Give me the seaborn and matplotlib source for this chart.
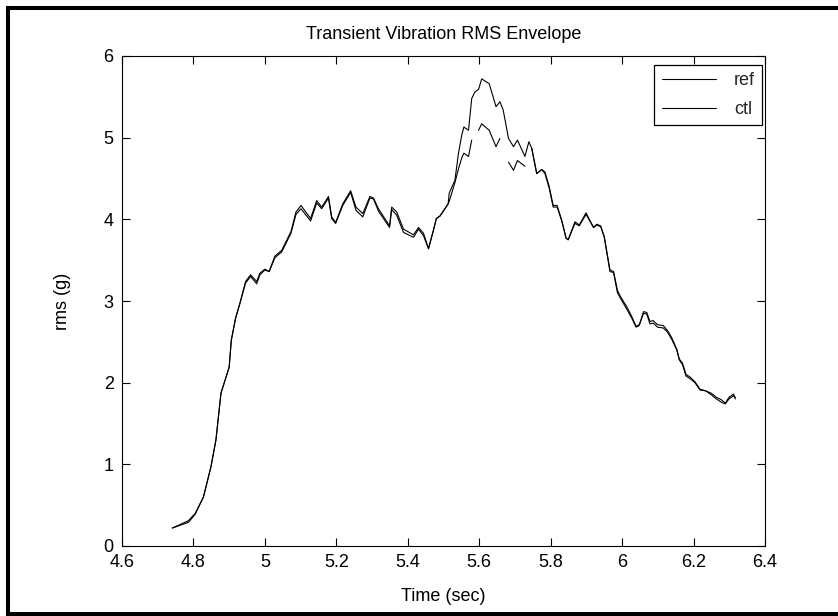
import numpy as np
import pandas as pd
import matplotlib
matplotlib.use("Agg")
import matplotlib.pyplot as plt
from matplotlib.lines import Line2D
import seaborn as sns

# ---- data ----
time_sec = [4.741, 4.786, 4.805, 4.828, 4.849, 4.863, 4.877, 4.900, 4.906, 4.918,
            4.930, 4.946, 4.960, 4.977, 4.986, 5.000, 5.012, 5.028, 5.047, 5.073,
            5.087, 5.101, 5.128, 5.145, 5.159, 5.178, 5.187, 5.198, 5.218, 5.240,
            5.255, 5.274, 5.294, 5.304, 5.318, 5.349, 5.355, 5.369, 5.388, 5.416,
            5.430, 5.444, 5.458, 5.472, 5.480, 5.490, 5.504, 5.513, 5.516, 5.532,
            5.542, 5.551, 5.557, 5.570, 5.579, 5.588, 5.598, 5.607, 5.628, 5.647,
            5.658, 5.667, 5.682, 5.696, 5.707, 5.728, 5.739, 5.747, 5.761, 5.775,
            5.784, 5.796, 5.807, 5.818, 5.831, 5.843, 5.849, 5.868, 5.880, 5.899,
            5.920, 5.929, 5.940, 5.950, 5.966, 5.976, 5.987, 5.996, 6.013, 6.027,
            6.039, 6.048, 6.060, 6.069, 6.078, 6.087, 6.099, 6.115, 6.127, 6.139,
            6.153, 6.160, 6.169, 6.179, 6.190, 6.204, 6.218, 6.234, 6.250, 6.264,
            6.278, 6.289, 6.299, 6.312, 6.317]

ref = [0.22, 0.31, 0.40, 0.60, 0.97, 1.30, 1.87, 2.19, 2.52, 2.79,
       2.97, 3.24, 3.32, 3.24, 3.34, 3.39, 3.36, 3.55, 3.62, 3.85,
       4.09, 4.17, 4.01, 4.23, 4.15, 4.28, 4.03, 3.96, 4.19, 4.35,
       4.15, 4.07, 4.28, 4.26, 4.13, 3.92, 4.15, 4.09, 3.88, 3.81,
       3.90, 3.83, 3.64, 3.87, 4.01, 4.04, 4.13, 4.19, 4.32, 4.48,
       4.81, 5.03, 5.13, 5.09, 5.48, 5.56, 5.59, 5.72, 5.66, 5.38,
       5.44, 5.34, 4.99, 4.89, 4.97, 4.77, 4.95, 4.87, 4.56, 4.61,
       4.58, 4.40, 4.17, 4.17, 3.99, 3.77, 3.75, 3.97, 3.93, 4.08,
       3.90, 3.94, 3.92, 3.79, 3.38, 3.36, 3.13, 3.05, 2.93, 2.81,
       2.69, 2.71, 2.85, 2.84, 2.72, 2.73, 2.68, 2.67, 2.62, 2.53,
       2.40, 2.28, 2.22, 2.08, 2.05, 2.00, 1.91, 1.90, 1.87, 1.82,
       1.79, 1.75, 1.82, 1.86, 1.80]

ctl = [0.22, 0.29, 0.39, 0.60, 0.97, 1.30, 1.87, 2.19, 2.52, 2.79,
       2.97, 3.22, 3.30, 3.21, 3.32, 3.38, 3.36, 3.53, 3.60, 3.83,
       4.06, 4.13, 3.98, 4.20, 4.13, 4.26, 4.01, 3.95, 4.17, 4.33,
       4.11, 4.03, 4.26, 4.25, 4.10, 3.90, 4.12, 4.05, 3.84, 3.78,
       3.88, 3.80, 3.64, 3.87, 4.01, 4.04, 4.13, 4.19, 4.22, 4.45,
       4.62, 4.75, 4.81, 4.77, 4.97, np.nan, 5.09, 5.17, 5.09, 4.89,
       4.99, np.nan, 4.70, 4.60, 4.72, 4.65, np.nan, 4.87, 4.56, 4.61,
       4.56, 4.38, 4.15, 4.15, 3.98, 3.77, 3.75, 3.95, 3.92, 4.06,
       3.90, 3.93, 3.91, 3.78, 3.36, 3.35, 3.10, 3.03, 2.90, 2.79,
       2.68, 2.70, 2.87, 2.86, 2.75, 2.76, 2.71, 2.70, 2.64, 2.55,
       2.41, 2.29, 2.24, 2.10, 2.07, 2.01, 1.92, 1.90, 1.85, 1.80,
       1.76, 1.74, 1.80, 1.84, 1.82]

series_names = ["ref", "ctl"]
x_ticks = [4.6, 4.8, 5.0, 5.2, 5.4, 5.6, 5.8, 6.0, 6.2, 6.4]
x_tick_labels = ["4.6", "4.8", "5", "5.2", "5.4", "5.6", "5.8", "6", "6.2", "6.4"]
y_ticks = [0, 1, 2, 3, 4, 5, 6]
title_text = "Transient Vibration RMS Envelope"
x_label = "Time (sec)"
y_label = "rms (g)"

# ---- tidy table (gaps in a series become separate line units) ----
frames = []
for name, vals in zip(series_names, [ref, ctl]):
    v = np.asarray(vals, dtype=float)
    seg = np.cumsum(np.isnan(v))
    df = pd.DataFrame({"t": time_sec, "v": v, "series": name, "seg": seg})
    frames.append(df.dropna())
data = pd.concat(frames, ignore_index=True)

# ---- style ----
sns.set_theme(style="white")
plt.rcParams["font.family"] = ["Liberation Sans", "DejaVu Sans"]
plt.rcParams["xtick.direction"] = "in"
plt.rcParams["ytick.direction"] = "in"

W, H = 838, 616
fig = plt.figure(figsize=(W / 100, H / 100), dpi=100)
fig.patch.set_facecolor("white")

ax_l, ax_r, ax_t, ax_b = 122, 765, 56, 546
ax = fig.add_axes([ax_l / W, 1 - ax_b / H, (ax_r - ax_l) / W, (ax_b - ax_t) / H])

for name in series_names:
    sns.lineplot(data=data[data["series"] == name], x="t", y="v", units="seg",
                 estimator=None, sort=False, color="black", linewidth=0.8, ax=ax,
                 legend=False)

ax.set_xlim(4.6, 6.4)
ax.set_ylim(0, 6)
ax.set_xticks(x_ticks)
ax.set_xticklabels(x_tick_labels)
ax.set_yticks(y_ticks)
ax.tick_params(axis="both", which="both", direction="in", length=5.8, width=0.8,
               color="black", labelsize=13, labelcolor="black",
               top=True, right=True, bottom=True, left=True, pad=6)
for s in ax.spines.values():
    s.set_visible(True)
    s.set_color("black")
    s.set_linewidth(0.8)

ax.set_title(title_text, fontsize=13, color="black", pad=0, y=1.034)
ax.set_xlabel(x_label, fontsize=13, color="black")
ax.set_ylabel(y_label, fontsize=13, color="black")
ax.xaxis.set_label_coords(0.5, -0.0857)
ax.yaxis.set_label_coords(-0.079, 0.5)

handles = [Line2D([], [], color="black", linewidth=0.8) for _ in series_names]
leg = ax.legend(handles, series_names, loc="upper right",
                bbox_to_anchor=(0.9953, 0.9816), borderaxespad=0,
                fontsize=13, frameon=True, fancybox=False, shadow=False,
                handlelength=3.0, handletextpad=1.0, borderpad=0.4,
                labelspacing=0.65)
leg.get_frame().set_edgecolor("black")
leg.get_frame().set_linewidth(0.9)
leg.get_frame().set_alpha(1)

# figure border (top, left, bottom)
lw = 2.9
fig.add_artist(Line2D([6 / W, 1.0], [1 - 8 / H, 1 - 8 / H], color="black",
                      linewidth=lw, transform=fig.transFigure, solid_capstyle="butt"))
fig.add_artist(Line2D([8 / W, 8 / W], [1 - 6 / H, 0], color="black",
                      linewidth=lw, transform=fig.transFigure, solid_capstyle="butt"))
fig.add_artist(Line2D([6 / W, 1.0], [2 / H, 2 / H], color="black",
                      linewidth=lw, transform=fig.transFigure, solid_capstyle="butt"))

fig.savefig("out.png", dpi=100)
